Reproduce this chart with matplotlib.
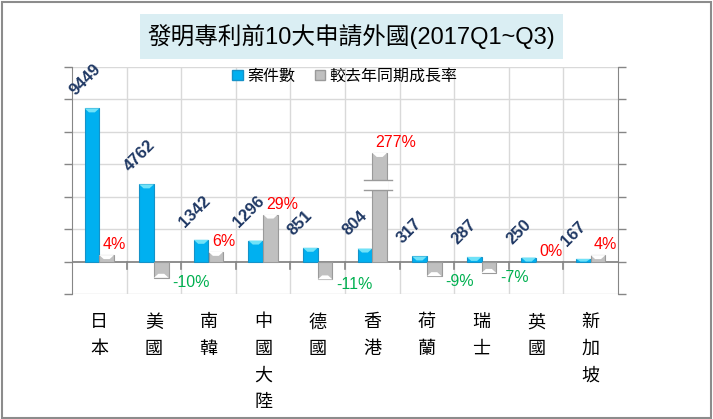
import matplotlib
matplotlib.use("Agg")
import matplotlib.pyplot as plt
from matplotlib.patches import Patch, Polygon, Rectangle
import numpy as np

plt.rcParams['font.family'] = ['Liberation Sans', 'Noto Sans CJK TC', 'DejaVu Sans']

# ---- data ----
categories = ["日本", "美國", "南韓", "中國大陸", "德國", "香港", "荷蘭", "瑞士", "英國", "新加坡"]
counts = [9449, 4762, 1342, 1296, 851, 804, 317, 287, 250, 167]
growth = [4, -10, 6, 29, -11, 277, -9, -7, 0, 4]
title = "發明專利前10大申請外國(2017Q1~Q3)"
legend_labels = ["案件數", "較去年同期成長率"]

# ---- style ----
BLUE = "#00B0F0"; BLUE_EDGE = "#1592C8"; BLUE_HI = "#70E2F8"
GRAY = "#C0C0C0"; GRAY_EDGE = "#9A9A9A"; GRAY_HI = "#FFFFFF"
NAVY = "#1F3864"; RED = "#FF0000"; GREEN = "#00B050"
GRID = "#D9D9D9"; AXC = "#868686"
CAP = 67          # display cap for broken bar
BREAK = (44.4, 50.0)
W = 0.27

fig = plt.figure(figsize=(7.13, 4.19), dpi=100)
L, R, B, T = 72/713, 618/713, 1-294/419, 1-67/419
ax = fig.add_axes([L, B, R-L, T-B])
ax2 = ax.twinx()

x = np.arange(len(categories))
ax.set_xlim(-0.5, len(categories)-0.5)
ax.set_ylim(-2000, 12000)
ax2.set_ylim(-20, 120)
ax.set_yticks(np.arange(-2000, 12001, 2000))
ax2.set_yticks(np.arange(-20, 121, 20))
ax.set_yticklabels([]); ax2.set_yticklabels([])

axh_px = (T-B)*419
px1 = 14000/axh_px   # data units per px on left axis
px2 = 140/axh_px

# grid
for yv in np.arange(-2000, 12001, 2000):
    if yv != 0:
        ax.axhline(yv, color=GRID, lw=1, zorder=0)
for b in np.arange(0.5, len(categories)-0.5, 1):
    ax.axvline(b, color=GRID, lw=1, zorder=0)
    ax.axvline(b, ymin=1/7-7/axh_px, ymax=1/7, color=AXC, lw=1.2, zorder=1)
ax.axhline(0, color=AXC, lw=1.3, zorder=1)

def bevel(a, xc, val, w, hi, unit):
    if val == 0:
        return
    d = min(4*unit, abs(val))
    s = 1 if val > 0 else -1
    l, r = xc - w/2, xc + w/2
    poly = Polygon([(l, val), (r, val), (r - w*0.3, val - s*d), (l + w*0.3, val - s*d)],
                   closed=True, facecolor=hi, edgecolor='none', zorder=4)
    a.add_patch(poly)

# blue bars
bx = x - W/2
ax.bar(bx, counts, width=W, color=BLUE, edgecolor=BLUE_EDGE, linewidth=0.8, zorder=3)
for xi, v in zip(bx, counts):
    bevel(ax, xi, v, W, BLUE_HI, px1)
    ax.annotate(str(v), xy=(xi - W/2, v), xytext=(-7, 10), textcoords='offset pixels',
                rotation=45, rotation_mode='anchor', ha='left', va='bottom',
                fontsize=12, fontweight='bold', color=NAVY, zorder=6)

# gray bars
gx = x + W/2
disp = [min(g, CAP) for g in growth]
ax2.bar(gx, disp, width=W, color=GRAY, edgecolor=GRAY_EDGE, linewidth=0.8, zorder=3)
for xi, v, g in zip(gx, disp, growth):
    bevel(ax2, xi, v, W, GRAY_HI, px2)
    if g >= 0:
        ax2.annotate(f"{g}%", xy=(xi, v), xytext=(-4, 3), textcoords='offset pixels',
                     ha='left', va='bottom', fontsize=11.5, color=RED, zorder=6)
    else:
        ax2.annotate(f"{g}%", xy=(xi + W/2, v), xytext=(4, -5), textcoords='offset pixels',
                     ha='left', va='center', fontsize=11.5, color=GREEN, zorder=6)
    if g > CAP:
        ax2.add_patch(Rectangle((xi - W/2 - 0.02, BREAK[0]), W + 0.04, BREAK[1]-BREAK[0],
                                facecolor='white', edgecolor='none', zorder=5))
        for yb in BREAK:
            ax2.plot([xi - W/2 - 0.16, xi + W/2 + 0.09], [yb, yb], color=GRAY_EDGE, lw=1, zorder=5)

# spines / ticks
for a in (ax, ax2):
    a.spines['top'].set_visible(False)
    a.spines['bottom'].set_visible(False)
    a.spines['left'].set_color(AXC)
    a.spines['right'].set_color(AXC)
ax.spines['right'].set_visible(False)
ax2.spines['left'].set_visible(False)
ax.tick_params(axis='y', direction='out', length=6, color=AXC, width=1)
ax2.tick_params(axis='y', direction='out', length=6, color=AXC, width=1)
ax.set_xticks(x)
ax.set_xticklabels(["\n".join(c) for c in categories], fontsize=13, linespacing=1.6,
                   family=['Noto Sans CJK TC'], fontweight='light')
ax.tick_params(axis='x', length=0, pad=14)
ax2.tick_params(axis='x', length=0)

# legend
handles = [Patch(facecolor=BLUE, edgecolor=BLUE_EDGE), Patch(facecolor=GRAY, edgecolor=GRAY_EDGE)]
ax2.legend(handles, legend_labels, loc='center', bbox_to_anchor=(0.5, 0.96), ncol=2,
           frameon=False, fontsize=11.5, handlelength=0.65, handleheight=0.65,
           handletextpad=0.3, columnspacing=1.2, borderaxespad=0)

# title
fig.patches.append(Rectangle((140/713, 1-59/419), (563-140)/713, 45/419, transform=fig.transFigure,
                             facecolor="#DAEEF3", edgecolor='none', zorder=0))
fig.text(351.5/713, 1-36.5/419, title, ha='center', va='center', fontsize=17, color='black')

# outer border
fig.patches.append(Rectangle((1.5/713, 1.5/419), 709.5/713, 415.5/419, transform=fig.transFigure,
                             fill=False, edgecolor="#8C8C8C", lw=1.5))

fig.savefig("out.png", dpi=100)
